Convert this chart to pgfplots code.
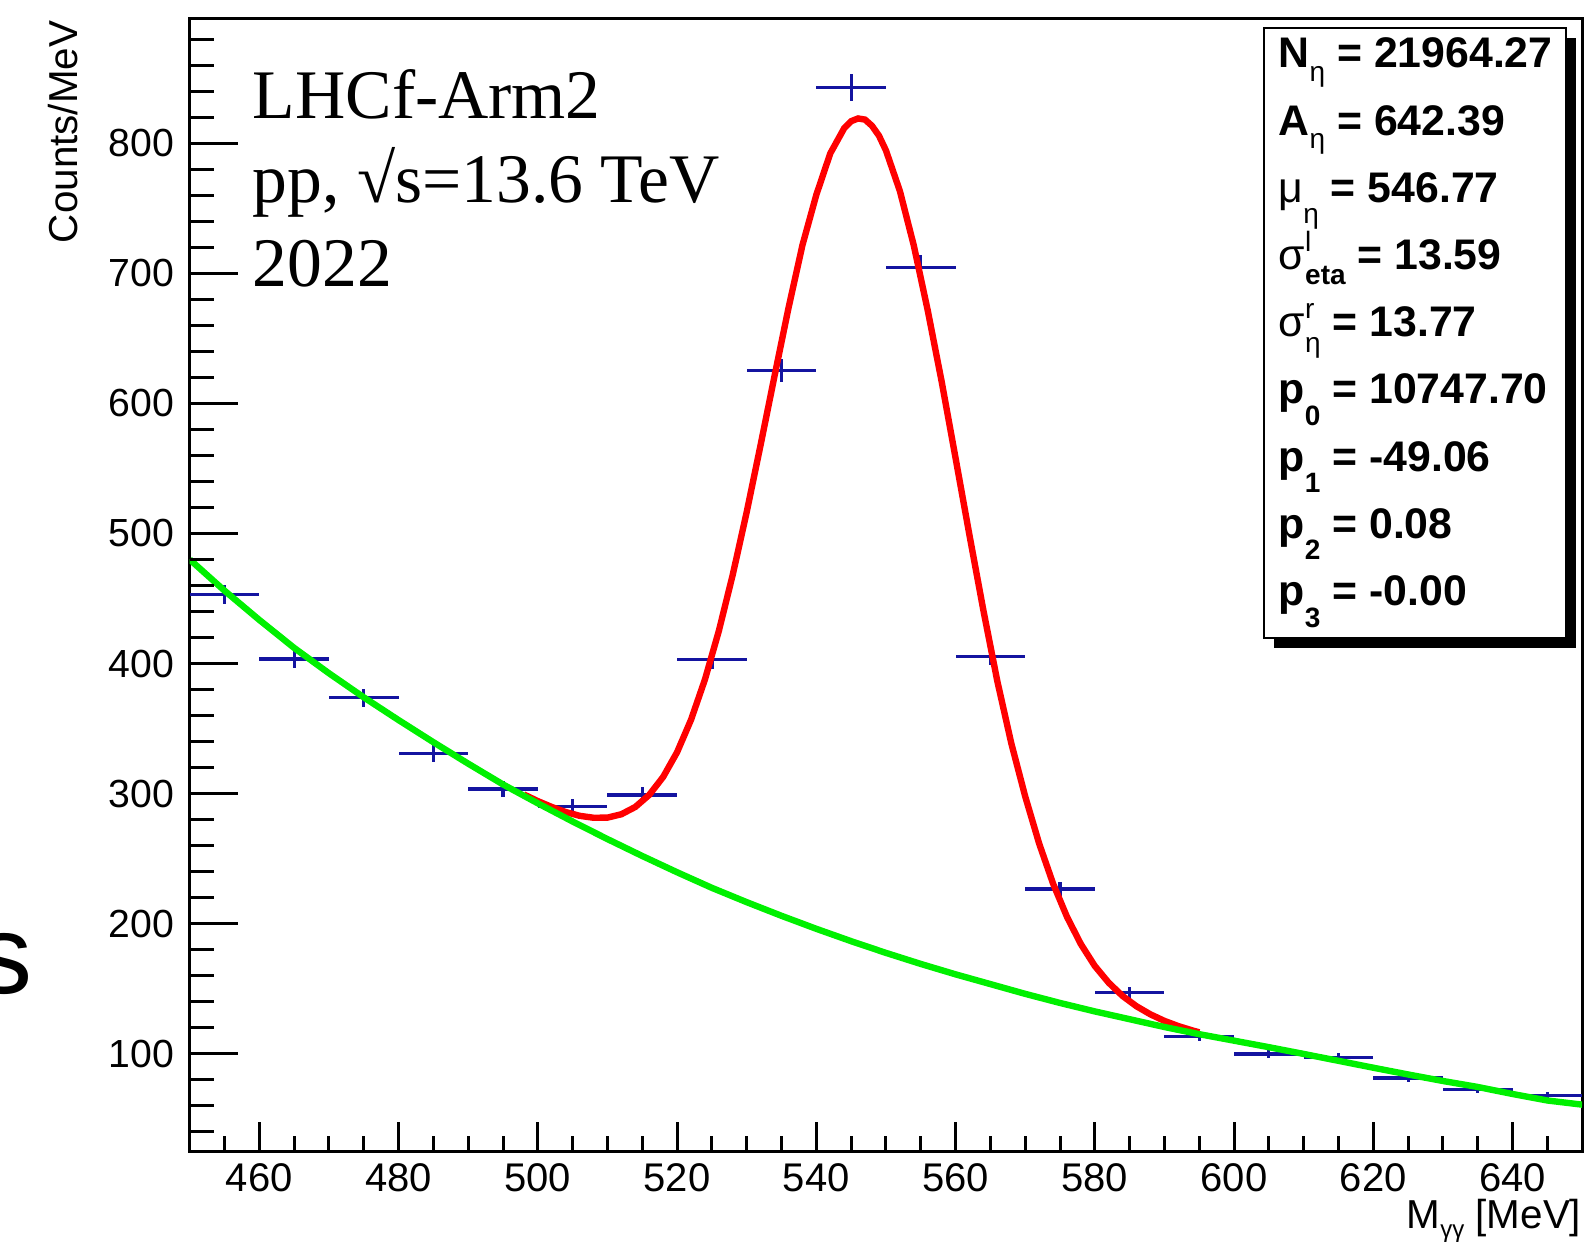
\documentclass[border=0pt]{standalone}
\usepackage{fontspec}
\setmainfont{Liberation Sans}
\newfontfamily\serif{Liberation Serif}
\usepackage{pgfplots}
\pgfplotsset{compat=1.18}
\usepackage{pgfplotstable}
\definecolor{rootblue}{RGB}{20,20,160}
\definecolor{rootgreen}{RGB}{0,240,0}
\newcommand{\lsub}[2][-0.32em]{\raisebox{#1}{\fontsize{7}{7}\selectfont #2}}
\newcommand{\subsup}[3][-0.36em]{\rlap{\raisebox{0.42em}{\fontsize{7}{7}\selectfont\mdseries #2}}\raisebox{#1}{\fontsize{7}{7}\selectfont #3}}

\pgfplotstableread{
x y ey
455 453.2 7.5
465 403.5 7.1
475 373.7 6.8
485 330.7 6.4
495 303.5 6.2
505 289.9 6.0
515 298.9 6.1
525 403.2 7.1
535 625.1 8.8
545 842.7 10.3
555 704.6 9.4
565 405.6 7.1
575 226.6 5.3
585 147.2 4.3
595 113.2 3.8
605 99.8 3.5
615 97.2 3.5
625 81.3 3.2
635 72.6 3.0
645 67.7 2.9
}\datatab

\pgfplotstableread{
x y
498 299.3
500 294.2
502 289.7
504 285.8
506 282.9
508 281.4
510 281.5
512 284.1
514 289.7
516 299.0
518 312.8
520 331.8
522 356.7
524 387.7
526 425.1
528 468.4
530 516.5
532 568.2
534 621.2
536 673.3
538 721.6
540 760.4
542 792.2
544 811.6
545 817.0
546 819.1
547 818.2
548 813.4
549 805.8
550 794.5
552 763.3
554 721.4
556 671.5
558 616.8
560 557.9
562 498.5
564 440.7
566 386.3
568 338.7
570 297.8
572 261.6
574 230.8
576 205.2
578 184.2
580 167.4
582 154.5
584 144.3
586 136.4
588 130.2
590 125.2
592 121.2
594 117.9
595 116.4
}\redtab

\pgfplotstableread{
x y
450 480
455 456
460 433.5
465 412
470 392.5
475 374
480 356.5
485 339.5
490 323
495 307
500 292.5
505 278.5
510 265
515 252
520 239.5
525 227.5
530 216.5
535 206
540 196
545 186.5
550 177.5
555 169
560 161
565 153.5
570 146
575 139
580 132.5
585 126.5
590 120.5
595 115
600 110
605 105
610 99.8
615 94.5
620 89.2
625 84
630 79
635 74.4
640 69
645 64
650 60.8
}\greentab

\begin{document}
\begin{tikzpicture}
\begin{axis}[
  at={(47.43pt,22.58pt)}, anchor=south west,
  width=348.12pt, height=283.3pt, scale only axis,
  xmin=450, xmax=650, ymin=24.65, ymax=896,
  axis line style={line width=0.75pt},
  tick style={line width=0.75pt, black},
  tick align=inside,
  xtick={440,460,...,660},
  minor x tick num=3,
  xtick pos=bottom,
  ytick=\empty,
  major tick length=7.5pt, minor tick length=4pt,
  /pgf/number format/assume math mode=true,
  xticklabel style={font=\fontsize{10}{12}\selectfont, inner sep=0pt, yshift=-2.8pt},
  clip=true,
]
\addplot[draw=none, mark=none,
  error bars/.cd, x dir=both, x fixed=5, y dir=both, y explicit,
  error mark=none, error bar style={draw=rootblue, solid, line width=0.8pt}]
  table[x=x, y=y, y error=ey] {\datatab};
\addplot[red, line width=1.6pt, mark=none] table[x=x,y=y] {\redtab};
\addplot[rootgreen, line width=1.6pt, mark=none] table[x=x,y=y] {\greentab};
\end{axis}
\begin{axis}[
  at={(47.43pt,22.58pt)}, anchor=south west,
  width=348.12pt, height=283.3pt, scale only axis,
  xmin=450, xmax=650, ymin=24.65, ymax=896,
  axis line style={draw=none},
  tick style={line width=0.75pt, black},
  tick align=inside,
  xtick=\empty,
  ytick={0,100,...,900},
  minor y tick num=4,
  ytick pos=left,
  major tick length=12pt, minor tick length=6pt,
  /pgf/number format/assume math mode=true,
  yticklabel style={font=\fontsize{9.8}{12}\selectfont, inner sep=0pt, xshift=-3.7pt},
]
\addplot[draw=none] coordinates {(500,100)};
\end{axis}

% axis titles
\node[anchor=base east, inner sep=0pt, font=\fontsize{10.1}{12}\selectfont] at (395.5pt,3.4pt) {M\raisebox{-0.22em}{\fontsize{6}{6}\selectfont γγ} [MeV]};
\node[rotate=90, anchor=base east, inner sep=0pt, font=\fontsize{10.1}{12}\selectfont] at (19.5pt,305.5pt) {Counts/MeV};

% LHCf text
\node[anchor=base west, inner sep=0pt, font=\serif\fontsize{17.4}{20}\selectfont] at (63pt,280.9pt) {LHCf-Arm2};
\node[anchor=base west, inner sep=0pt, font=\serif\fontsize{17.4}{20}\selectfont] at (63pt,259.9pt) {pp, √s=13.6 TeV};
\node[anchor=base west, inner sep=0pt, font=\serif\fontsize{17.4}{20}\selectfont] at (63pt,238.8pt) {2022};

% stats box
\fill[black] (318.5pt,148.5pt) rectangle (394pt,301pt);
\draw[line width=0.6pt, fill=white] (316pt,151pt) rectangle (391.5pt,303.5pt);
\begin{scope}[every node/.style={anchor=base west, inner sep=0pt, font=\fontsize{10.7}{12}\selectfont\bfseries}]
\node at (319.5pt,293.5pt) {N\lsub{\mdseries η} = 21964.27};
\node at (319.5pt,276.7pt) {A\lsub{\mdseries η} = 642.39};
\node at (319.5pt,259.9pt) {{\mdseries μ}\lsub[-0.5em]{\mdseries η} = 546.77};
\node at (319.5pt,243.1pt) {{\mdseries σ}\subsup{l}{eta} = 13.59};
\node at (319.5pt,226.3pt) {{\mdseries σ}\subsup{r}{\mdseries η} = 13.77};
\node at (319.5pt,209.5pt) {p\lsub[-0.5em]{0} = 10747.70};
\node at (319.5pt,192.7pt) {p\lsub[-0.5em]{1} = -49.06};
\node at (319.5pt,175.9pt) {p\lsub[-0.5em]{2} = 0.08};
\node at (319.5pt,159.05pt) {p\lsub[-0.5em]{3} = -0.00};
\end{scope}

% stray letter at left edge
\node[anchor=base west, inner sep=0pt, font=\fontsize{28}{30}\selectfont] at (-6pt,62pt) {s};

\pgfresetboundingbox
\useasboundingbox (0pt,0pt) rectangle (397pt,310.5pt);
\end{tikzpicture}
\end{document}
